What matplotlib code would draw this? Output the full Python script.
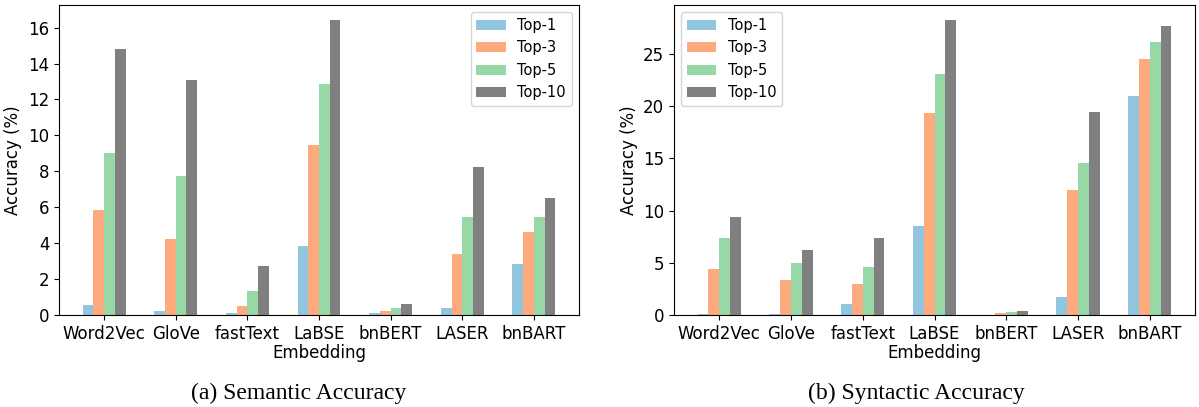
import numpy as np
import matplotlib
matplotlib.use("Agg")
import matplotlib.pyplot as plt

embeddings = ["Word2Vec", "GloVe", "fastText", "LaBSE", "bnBERT", "LASER", "bnBART"]
series_names = ["Top-1", "Top-3", "Top-5", "Top-10"]
colors = ["#92c5de", "#fdaa7e", "#98d8a6", "#808080"]

# (a) semantic accuracy
semantic_top1 = [0.53, 0.24, 0.13, 3.85, 0.13, 0.41, 2.85]
semantic_top3 = [5.85, 4.24, 0.52, 9.45, 0.24, 3.40, 4.62]
semantic_top5 = [9.00, 7.73, 1.35, 12.84, 0.41, 5.46, 5.46]
semantic_top10 = [14.83, 13.06, 2.74, 16.44, 0.63, 8.23, 6.51]

# (b) syntactic accuracy
syntactic_top1 = [0.13, 0.10, 1.08, 8.52, 0.0, 1.75, 21.02]
syntactic_top3 = [4.42, 3.37, 2.99, 19.31, 0.22, 11.96, 24.55]
syntactic_top5 = [7.38, 4.99, 4.61, 23.12, 0.32, 14.54, 26.18]
syntactic_top10 = [9.38, 6.23, 7.38, 28.28, 0.41, 19.40, 27.70]

W, H = 1199, 407
fig = plt.figure(figsize=(W / 100, H / 100), dpi=100)

ax_a = fig.add_axes([59 / W, 1 - 315 / H, 520 / W, 310 / H])
ax_b = fig.add_axes([674 / W, 1 - 315 / H, 521 / W, 310 / H])

bar_w = 0.15
x = np.arange(len(embeddings))


def draw_panel(ax, values, legend_loc):
    for i, (name, vals) in enumerate(zip(series_names, values)):
        ax.bar(x + (i - 1.5) * bar_w, vals, bar_w, color=colors[i], label=name)
    ax.set_xticks(x)
    ax.set_xticklabels(embeddings, fontsize=12)
    ax.tick_params(axis="y", labelsize=12)
    ax.set_xlabel("Embedding", fontsize=12, labelpad=1)
    ax.set_ylabel("Accuracy (%)", fontsize=12)
    ax.legend(loc=legend_loc, fontsize=10.5)


draw_panel(ax_a, [semantic_top1, semantic_top3, semantic_top5, semantic_top10], "upper right")
draw_panel(ax_b, [syntactic_top1, syntactic_top3, syntactic_top5, syntactic_top10], "upper left")

fig.text(299 / W, 1 - 393 / H, "(a) Semantic Accuracy", ha="center", va="center",
         fontsize=17, family="Liberation Serif")
fig.text(916 / W, 1 - 393 / H, "(b) Syntactic Accuracy", ha="center", va="center",
         fontsize=17, family="Liberation Serif")

fig.savefig("out.png", dpi=100)
